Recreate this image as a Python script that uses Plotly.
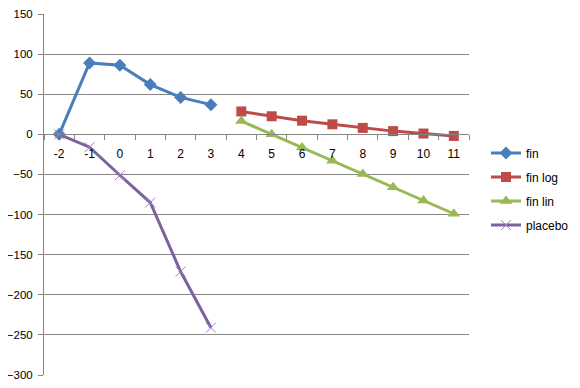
import plotly.graph_objects as go

categories = ["-2", "-1", "0", "1", "2", "3", "4", "5", "6", "7", "8", "9", "10", "11"]

fin_x = ["-2", "-1", "0", "1", "2", "3"]
fin_y = [0, 89, 86, 62, 46, 37]

finlog_x = ["4", "5", "6", "7", "8", "9", "10", "11"]
finlog_y = [28.5, 22.5, 17, 12.5, 8, 4, 1, -2]

finlin_x = ["4", "5", "6", "7", "8", "9", "10", "11"]
finlin_y = [16.5, 0, -16.5, -33, -49.5, -66, -82.5, -99]

placebo_x = ["-2", "-1", "0", "1", "2", "3"]
placebo_y = [0, -16, -51, -85, -171, -241]

y_ticks = [150, 100, 50, 0, -50, -100, -150, -200, -250, -300]

fig = go.Figure()
fig.add_trace(go.Scatter(x=fin_x, y=fin_y, name="fin", mode="lines+markers",
                         line=dict(color="#4A7EBB", width=3),
                         marker=dict(symbol="diamond", size=10, color="#4A7EBB"),
                         legendgroup="a"))
fig.add_trace(go.Scatter(x=finlog_x, y=finlog_y, name="fin log", mode="lines+markers",
                         line=dict(color="#BE4B48", width=3),
                         marker=dict(symbol="square", size=10, color="#BE4B48"),
                         legendgroup="b"))
fig.add_trace(go.Scatter(x=finlin_x, y=finlin_y, name="fin lin", mode="lines+markers",
                         line=dict(color="#98B954", width=3),
                         marker=dict(symbol="triangle-up", size=11, color="#98B954"),
                         legendgroup="c"))
fig.add_trace(go.Scatter(x=placebo_x, y=placebo_y, name="placebo", mode="lines+markers",
                         line=dict(color="#7D60A0", width=3),
                         marker=dict(symbol="x-thin", size=10,
                                     line=dict(color="#9B84BC", width=1), color="#9B84BC"),
                         legendgroup="d"))

fig.update_layout(
    width=572, height=380,
    margin=dict(l=36, r=105, t=6, b=13),
    paper_bgcolor="white", plot_bgcolor="white",
    font=dict(family="Liberation Sans", size=12, color="black"),
    showlegend=True,
    legend=dict(x=1.040, y=0.515, xanchor="left", yanchor="middle",
                tracegroupgap=5, font=dict(size=12), itemwidth=30,
                bgcolor="rgba(0,0,0,0)"),
    xaxis=dict(type="category", categoryorder="array", categoryarray=categories,
               range=[-0.5, 13.5], anchor="free", position=300 / 450,
               showline=True, linecolor="#868686", linewidth=1,
               ticks="outside", tickson="boundaries", ticklen=5, tickcolor="#868686",
               showgrid=False, zeroline=False, automargin=False,
               ticklabelstandoff=8, ticklabeloverflow="allow"),
    yaxis=dict(range=[-300, 150], tickvals=y_ticks, showline=True,
               linecolor="#868686", linewidth=1, ticks="outside", ticklen=5,
               tickcolor="#868686", showgrid=True, gridcolor="#868686", gridwidth=1,
               zeroline=False, ticklabelstandoff=3, automargin=False,
               ticklabeloverflow="allow", tickfont=dict(size=11.5)),
)

fig.write_html("out.html")
